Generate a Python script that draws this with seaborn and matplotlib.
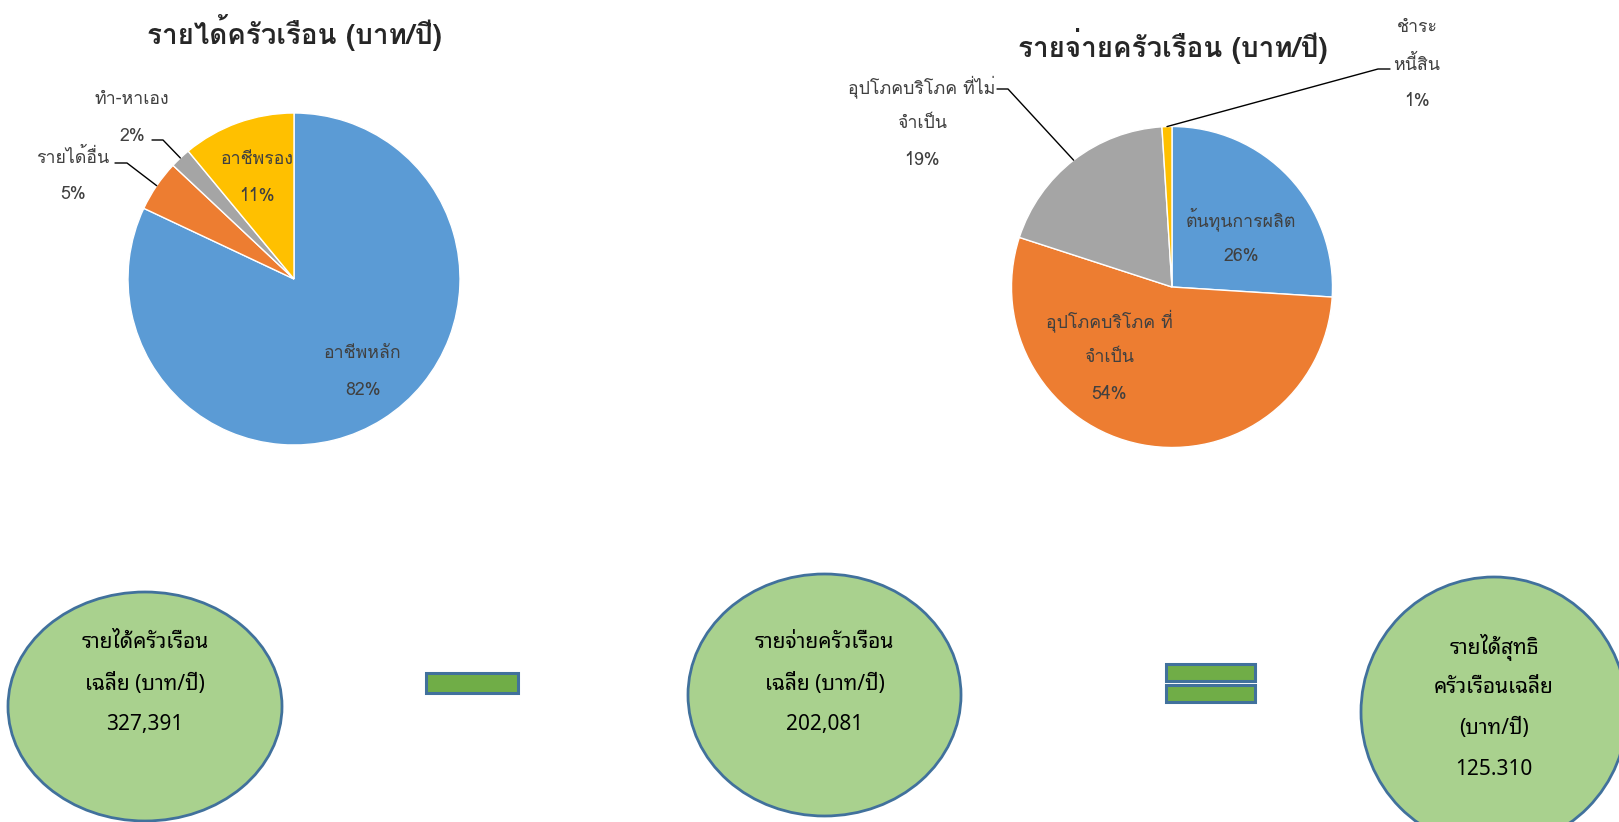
import matplotlib
matplotlib.use('Agg')
import matplotlib.pyplot as plt
from matplotlib import font_manager, ft2font
from matplotlib.patches import Ellipse, Rectangle
import numpy as np
import seaborn as sns

# ข้อมูลรายได้ / รายจ่าย (%)
income_labels = ['อาชีพหลัก', 'รายได้อื่น', 'ทำ-หาเอง', 'อาชีพรอง']
income_pct = [82, 5, 2, 11]
expense_labels = ['ต้นทุนการผลิต', 'อุปโภคบริโภค ที่\nจำเป็น', 'อุปโภคบริโภค ที่ไม่\nจำเป็น', 'ชำระ\nหนี้สิน']
expense_pct = [26, 54, 19, 1]

# กล่องสรุป
box_texts = ['รายได้ครัวเรือน\nเฉลี่ย (บาท/ปี)', 'รายจ่ายครัวเรือน\nเฉลี่ย (บาท/ปี)', 'รายได้สุทธิ\nครัวเรือนเฉลี่ย\n(บาท/ปี)']
box_values = ['327,391', '202,081', '125.310']

pie_colors = sns.color_palette(['#5B9BD5', '#ED7D31', '#A5A5A5', '#FFC000'])


def thai_fonts():
    found = []
    for f in font_manager.fontManager.ttflist:
        try:
            cmap = ft2font.FT2Font(f.fname).get_charmap()
        except Exception:
            continue
        if 0x0E23 in cmap and 0x0E35 in cmap:
            found.append(f.name)
    return sorted(set(found))


sns.set_theme(style='white')
tf = thai_fonts()
main_font = [f for f in ['Loma', 'Waree', 'Garuda'] if f in tf] + tf[:1]
box_font = [f for f in ['Noto Sans Thai Looped', 'Noto Sans Thai'] if f in tf] + main_font[:1]
plt.rcParams['font.family'] = main_font[:1] + ['DejaVu Sans']

W, H = 1619, 822
fig = plt.figure(figsize=(W / 100, H / 100), dpi=100)
ax = fig.add_axes([0, 0, 1, 1])


def Y(y):
    return H - y


def lines_at(x, y0, lines, step=37, **kw):
    for i, s in enumerate(lines):
        ax.text(x, Y(y0 + i * step), s, ha='center', va='center_baseline', **kw)


lab_kw = dict(fontsize=12.8, color='#404040')


def draw_pie(values, labels, center, r, title, title_pos, inside, outside):
    wedges, _ = ax.pie(values, colors=pie_colors, startangle=90, counterclock=False,
                       radius=r, center=(center[0], Y(center[1])), frame=True,
                       wedgeprops=dict(edgecolor='white', linewidth=1))
    ax.text(title_pos[0], Y(title_pos[1]), title, ha='center', va='center',
            fontsize=20, fontweight='bold', color='#262626')
    for i, (w, lab, v) in enumerate(zip(wedges, labels, values)):
        txt = lab.split('\n') + [f'{v}%']
        if i in inside:
            x, y = inside[i]
            lines_at(x, y, txt, **lab_kw)
        else:
            (x, y), elbow, end = outside[i]
            th = np.deg2rad((w.theta1 + w.theta2) / 2)
            ex = w.center[0] + w.r * np.cos(th)
            ey = w.center[1] + w.r * np.sin(th)
            ax.plot([ex, elbow[0], end[0]], [ey, Y(elbow[1]), Y(end[1])], color='black', lw=1)
            lines_at(x, y, txt, **lab_kw)


draw_pie(income_pct, income_labels, (294, 279), 166, 'รายได้ครัวเรือน (บาท/ปี)', (294, 33),
         inside={0: (363, 351), 3: (257, 157)},
         outside={1: ((73, 155), (127, 163), (115, 163)),
                  2: ((132, 97), (163, 140), (152, 140))})

draw_pie(expense_pct, expense_labels, (1172, 287), 160.5, 'รายจ่ายครัวเรือน (บาท/ปี)', (1173, 46),
         inside={0: (1241, 217), 1: (1109, 318)},
         outside={2: ((922, 84), (1008, 89), (997, 89)),
                  3: ((1417, 25), (1378, 69), (1390, 69))})

# วงรีสรุป
ell = [((145, 706.5), 274, 229, 640), ((824.5, 695), 273, 242, 640), ((1494, 712), 266, 270, 644)]
for (c, w, h, ty), t, v in zip(ell, box_texts, box_values):
    ax.add_patch(Ellipse((c[0], Y(c[1])), w, h, facecolor='#A9D18E', edgecolor='#41719C', lw=2))
    lines_at(c[0], ty, t.split('\n') + [v], step=41, fontsize=15, color='black',
             family=box_font[:1] + ['DejaVu Sans'])

# เครื่องหมาย ลบ / เท่ากับ
bar_kw = dict(facecolor='#70AD47', edgecolor='#41719C', lw=2.2)
ax.add_patch(Rectangle((426, Y(693)), 92, 20, **bar_kw))
ax.add_patch(Rectangle((1166, Y(681)), 89, 17, **bar_kw))
ax.add_patch(Rectangle((1166, Y(702)), 89, 17, **bar_kw))

ax.set_xlim(0, W)
ax.set_ylim(0, H)
ax.set_aspect('equal')
ax.axis('off')
fig.savefig('out.png', dpi=100)
